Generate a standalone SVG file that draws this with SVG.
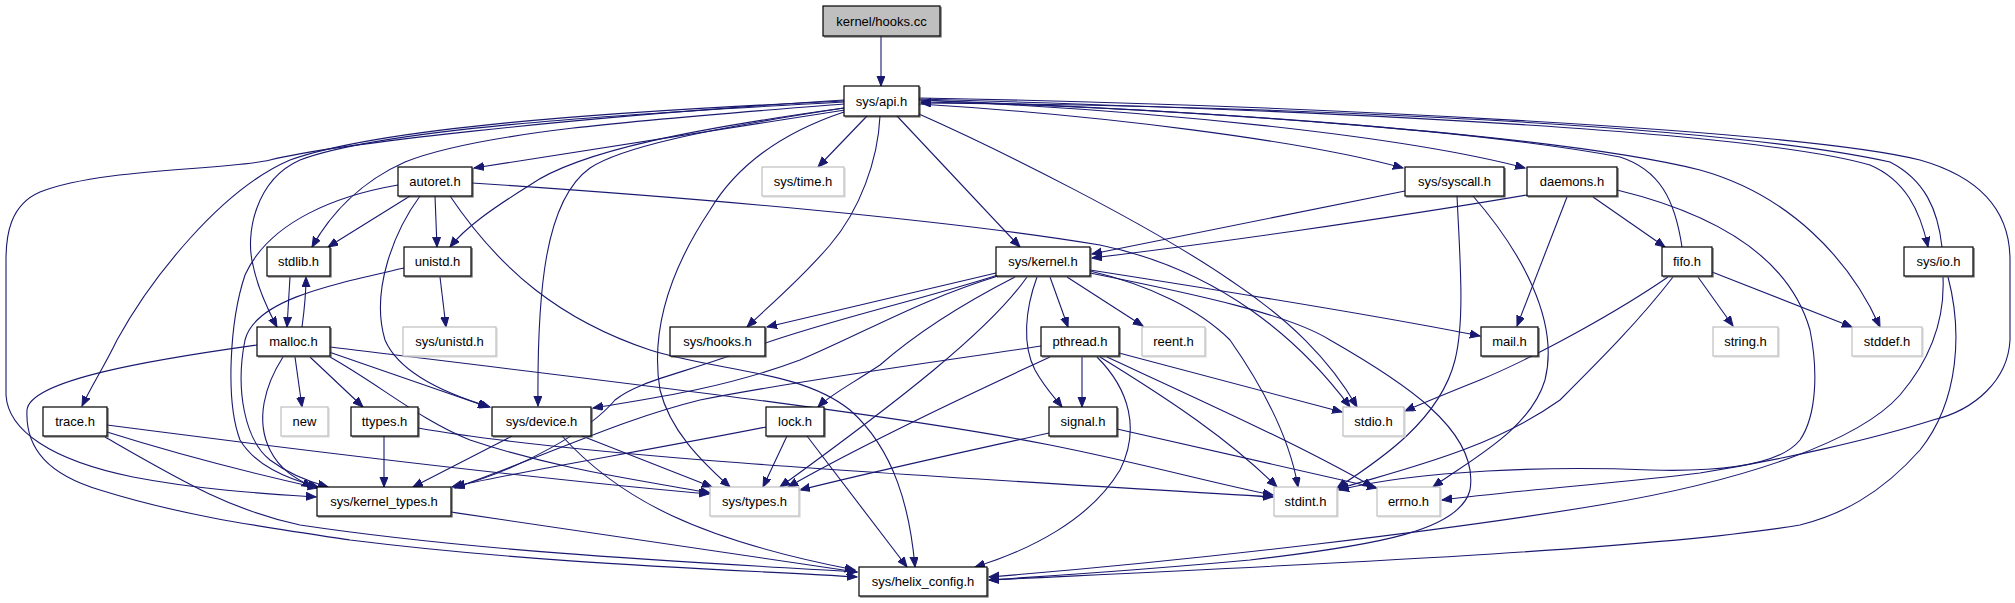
<svg xmlns="http://www.w3.org/2000/svg" width="2015" height="603" viewBox="0 0 2015 603">
<style>
.n rect{fill:#fff;stroke:#000;stroke-width:1.2}
.n .sh{fill:none;stroke:#555;stroke-width:1.2}
.g rect{fill:#fff;stroke:#bfbfbf;stroke-width:1.2}
.g .sh{fill:none;stroke:#d8d8d8;stroke-width:1.2}
.r rect{fill:#bfbfbf;stroke:#000;stroke-width:1.2}
.r .sh{fill:none;stroke:#555;stroke-width:1.2}
text{font-family:"Liberation Sans",Arial,sans-serif;font-size:13px;fill:#000;text-anchor:middle}
#edges path{fill:none;stroke:#191970;stroke-width:1.1;marker-end:url(#ah)}
</style>
<defs>
<marker id="ah" markerWidth="12" markerHeight="9" refX="10" refY="4" orient="auto" markerUnits="userSpaceOnUse">
<path d="M0,0 L10,4 L0,8 z" fill="#191970" stroke="#191970" stroke-width="1"/>
</marker>
</defs>
<rect width="2015" height="603" fill="#fff"/>
<g id="edges">
<path d="M881,36 L881,86"/>
<path d="M845,110 L474,168"/>
<path d="M867,116 L818,167"/>
<path d="M844,104 C640,120 480,132 405,162 C360,182 330,215 312,247"/>
<path d="M844,108 C700,128 580,150 530,185 C490,210 465,228 450,247"/>
<path d="M844,102 C600,115 380,130 300,160 C255,180 245,235 253,265 C258,290 268,310 277,327"/>
<path d="M844,101 C600,112 380,128 290,160 C220,190 150,280 117,340 C105,365 92,385 82,406"/>
<path d="M844,100 C560,118 330,145 270,160 C230,170 100,168 40,192 C10,205 6,235 6,260 L6,395 C8,430 50,460 133,477 C200,490 270,494 316,497"/>
<path d="M844,108 C700,130 620,148 590,168 C545,200 537,290 538,406"/>
<path d="M844,112 C790,130 740,160 710,210 C670,270 650,330 660,390 C670,430 700,460 730,487"/>
<path d="M880,116 C878,160 860,210 830,245 C800,280 770,305 747,327"/>
<path d="M897,116 L1020,247"/>
<path d="M919,114 C1000,150 1150,225 1230,280 C1290,320 1330,360 1357,407"/>
<path d="M919,104 C1100,115 1300,140 1403,168"/>
<path d="M919,100 C1150,110 1400,135 1525,168"/>
<path d="M919,99 C1300,110 1750,130 1870,165 C1905,180 1920,210 1928,247"/>
<path d="M919,100 C1200,110 1560,135 1700,170 C1790,195 1850,260 1880,327"/>
<path d="M919,98 C1300,105 1800,130 1920,160 C1990,180 2010,220 2010,260 L2010,340 C2008,380 1975,410 1933,420 C1870,440 1780,460 1700,473 C1620,483 1520,490 1442,500"/>
<path d="M1682,247 C1675,200 1660,170 1620,157 C1450,125 1100,105 921,102"/>
<path d="M1942,247 C1938,210 1925,180 1890,162 C1700,120 1200,105 921,103"/>
<path d="M398,185 C340,195 270,220 245,275 C230,320 225,400 240,440 C255,465 285,478 318,487"/>
<path d="M410,196 L328,247"/>
<path d="M420,196 C395,230 370,290 385,340 C400,375 450,395 490,407"/>
<path d="M435,196 L437,247"/>
<path d="M450,196 C500,270 560,320 650,350 C720,372 800,370 850,410 C895,450 910,510 915,567"/>
<path d="M472,183 C700,198 950,220 1100,245 C1220,270 1300,340 1350,407"/>
<path d="M290,277 L287,327"/>
<path d="M302,327 C305,305 306,290 306,277"/>
<path d="M440,277 L446,327"/>
<path d="M404,268 C330,285 255,300 245,340 C235,390 245,440 270,460 C290,475 310,482 328,487"/>
<path d="M257,345 C150,360 30,380 27,410 C25,450 50,475 100,490 C180,515 250,525 350,540 C550,565 750,570 857,577"/>
<path d="M283,357 C265,385 255,420 270,450 C280,470 295,478 312,487"/>
<path d="M295,357 L302,407"/>
<path d="M310,357 L363,407"/>
<path d="M329,352 L488,407"/>
<path d="M330,357 C380,385 420,420 470,440 C560,470 640,480 710,493"/>
<path d="M330,347 C600,380 900,415 1050,445 C1150,465 1220,485 1273,495"/>
<path d="M107,432 C180,455 260,475 318,488"/>
<path d="M107,425 C300,450 550,480 709,494"/>
<path d="M105,437 C180,480 230,510 300,525 C500,555 750,565 857,572"/>
<path d="M384,436 L384,487"/>
<path d="M418,428 C600,460 1000,480 1273,497"/>
<path d="M512,436 L413,487"/>
<path d="M582,436 L712,487"/>
<path d="M562,436 C620,500 700,540 855,570"/>
<path d="M766,427 C650,450 500,475 452,487"/>
<path d="M787,436 L763,487"/>
<path d="M807,436 L907,567"/>
<path d="M996,273 L767,327"/>
<path d="M998,276 C920,300 870,330 800,360 C720,390 640,400 593,408"/>
<path d="M998,275 C920,300 830,320 760,345 C680,375 640,380 615,400 C590,430 520,470 455,487"/>
<path d="M1015,277 C970,300 920,330 880,365 C850,385 830,395 818,407"/>
<path d="M1027,277 C990,330 900,400 780,487"/>
<path d="M1037,277 C1025,310 1022,345 1035,370 C1045,388 1055,398 1062,407"/>
<path d="M1050,277 L1068,327"/>
<path d="M1067,277 L1143,326"/>
<path d="M1090,270 C1250,295 1400,320 1480,336"/>
<path d="M1090,271 C1150,285 1200,310 1230,340 C1265,390 1290,440 1298,487"/>
<path d="M1090,273 C1200,295 1290,315 1330,340 C1400,380 1480,430 1470,490 C1460,530 1380,545 1250,560 C1120,572 1030,577 989,580"/>
<path d="M1041,346 C950,360 800,380 700,400 C620,420 560,450 455,488"/>
<path d="M1050,357 C1000,380 870,440 788,487"/>
<path d="M1082,357 L1082,407"/>
<path d="M1097,357 C1130,390 1140,430 1120,470 C1090,520 1030,550 975,567"/>
<path d="M1100,357 C1170,400 1230,440 1277,487"/>
<path d="M1107,357 C1200,400 1300,445 1373,487"/>
<path d="M1119,353 L1342,412"/>
<path d="M1049,433 C950,455 880,470 800,490"/>
<path d="M1117,429 L1377,488"/>
<path d="M1405,191 L1092,254"/>
<path d="M1457,196 C1460,260 1465,320 1455,360 C1440,420 1380,460 1337,488"/>
<path d="M1473,196 C1520,250 1560,320 1545,380 C1530,430 1470,460 1433,487"/>
<path d="M1527,195 C1380,220 1200,245 1092,258"/>
<path d="M1567,197 L1517,326"/>
<path d="M1593,197 L1665,247"/>
<path d="M1617,190 C1720,215 1790,260 1810,330 C1818,370 1817,415 1800,440 C1780,465 1720,472 1650,470 C1550,466 1420,470 1339,490"/>
<path d="M1698,277 L1733,326"/>
<path d="M1712,272 L1852,327"/>
<path d="M1668,277 C1620,310 1540,355 1480,380 C1450,392 1430,400 1405,411"/>
<path d="M1673,277 C1640,320 1600,360 1560,400 C1490,450 1400,470 1338,489"/>
<path d="M1948,277 C1962,330 1960,400 1920,450 C1880,495 1840,515 1800,525 C1650,550 1300,565 989,580"/>
<path d="M1943,277 C1945,320 1930,360 1900,395 C1860,440 1750,480 1600,505 C1450,530 1200,560 989,577"/>
<path d="M451,512 C600,535 750,555 857,572"/>
</g>
<g id="node-hooks" class="r"><path class="sh" d="M824,37 H941 V7"/><rect x="823" y="6" width="117" height="30"/><text x="881.5" y="26">kernel/hooks.cc</text></g>
<g id="node-api" class="n"><path class="sh" d="M845,117 H920 V87"/><rect x="844" y="86" width="75" height="30"/><text x="881.5" y="106">sys/api.h</text></g>
<g id="node-autoret" class="n"><path class="sh" d="M399,197 H473 V168"/><rect x="398" y="167" width="74" height="29"/><text x="435" y="186">autoret.h</text></g>
<g id="node-systime" class="g"><path class="sh" d="M763,197 H845 V168"/><rect x="762" y="167" width="82" height="29"/><text x="803" y="186">sys/time.h</text></g>
<g id="node-syscall" class="n"><path class="sh" d="M1406,197 H1505 V168"/><rect x="1405" y="167" width="99" height="29"/><text x="1454.5" y="186">sys/syscall.h</text></g>
<g id="node-daemons" class="n"><path class="sh" d="M1528,197 H1618 V168"/><rect x="1527" y="167" width="90" height="29"/><text x="1572" y="186">daemons.h</text></g>
<g id="node-stdlib" class="n"><path class="sh" d="M268,277 H331 V248"/><rect x="267" y="247" width="63" height="29"/><text x="298.5" y="266">stdlib.h</text></g>
<g id="node-unistd" class="n"><path class="sh" d="M405,277 H472 V248"/><rect x="404" y="247" width="67" height="29"/><text x="437.5" y="266">unistd.h</text></g>
<g id="node-kernel" class="n"><path class="sh" d="M997,277 H1091 V248"/><rect x="996" y="247" width="94" height="29"/><text x="1043" y="266">sys/kernel.h</text></g>
<g id="node-fifo" class="n"><path class="sh" d="M1663,277 H1713 V248"/><rect x="1662" y="247" width="50" height="29"/><text x="1687" y="266">fifo.h</text></g>
<g id="node-sysio" class="n"><path class="sh" d="M1905,277 H1974 V248"/><rect x="1904" y="247" width="69" height="29"/><text x="1938.5" y="266">sys/io.h</text></g>
<g id="node-malloc" class="n"><path class="sh" d="M258,357 H331 V328"/><rect x="257" y="327" width="73" height="29"/><text x="293.5" y="346">malloc.h</text></g>
<g id="node-sysunistd" class="g"><path class="sh" d="M404,357 H497 V328"/><rect x="403" y="327" width="93" height="29"/><text x="449.5" y="346">sys/unistd.h</text></g>
<g id="node-hooksh" class="n"><path class="sh" d="M671,357 H766 V328"/><rect x="670" y="327" width="95" height="29"/><text x="717.5" y="346">sys/hooks.h</text></g>
<g id="node-pthread" class="n"><path class="sh" d="M1042,357 H1120 V328"/><rect x="1041" y="327" width="78" height="29"/><text x="1080" y="346">pthread.h</text></g>
<g id="node-reent" class="g"><path class="sh" d="M1143,357 H1206 V328"/><rect x="1142" y="327" width="63" height="29"/><text x="1173.5" y="346">reent.h</text></g>
<g id="node-mail" class="n"><path class="sh" d="M1482,357 H1539 V328"/><rect x="1481" y="327" width="57" height="29"/><text x="1509.5" y="346">mail.h</text></g>
<g id="node-string" class="g"><path class="sh" d="M1714,357 H1779 V328"/><rect x="1713" y="327" width="65" height="29"/><text x="1745.5" y="346">string.h</text></g>
<g id="node-stddef" class="g"><path class="sh" d="M1853,357 H1923 V328"/><rect x="1852" y="327" width="70" height="29"/><text x="1887" y="346">stddef.h</text></g>
<g id="node-trace" class="n"><path class="sh" d="M44,437 H108 V408"/><rect x="43" y="407" width="64" height="29"/><text x="75" y="426">trace.h</text></g>
<g id="node-new" class="g"><path class="sh" d="M282,437 H329 V408"/><rect x="281" y="407" width="47" height="29"/><text x="304.5" y="426">new</text></g>
<g id="node-ttypes" class="n"><path class="sh" d="M352,437 H419 V408"/><rect x="351" y="407" width="67" height="29"/><text x="384.5" y="426">ttypes.h</text></g>
<g id="node-device" class="n"><path class="sh" d="M493,437 H592 V408"/><rect x="492" y="407" width="99" height="29"/><text x="541.5" y="426">sys/device.h</text></g>
<g id="node-lock" class="n"><path class="sh" d="M767,437 H825 V408"/><rect x="766" y="407" width="58" height="29"/><text x="795" y="426">lock.h</text></g>
<g id="node-signal" class="n"><path class="sh" d="M1050,437 H1118 V408"/><rect x="1049" y="407" width="68" height="29"/><text x="1083" y="426">signal.h</text></g>
<g id="node-stdio" class="g"><path class="sh" d="M1344,437 H1405 V408"/><rect x="1343" y="407" width="61" height="29"/><text x="1373.5" y="426">stdio.h</text></g>
<g id="node-kerneltypes" class="n"><path class="sh" d="M318,517 H452 V488"/><rect x="317" y="487" width="134" height="29"/><text x="384" y="506">sys/kernel_types.h</text></g>
<g id="node-systypes" class="g"><path class="sh" d="M711,517 H800 V488"/><rect x="710" y="487" width="89" height="29"/><text x="754.5" y="506">sys/types.h</text></g>
<g id="node-stdint" class="g"><path class="sh" d="M1275,517 H1338 V488"/><rect x="1274" y="487" width="63" height="29"/><text x="1305.5" y="506">stdint.h</text></g>
<g id="node-errno" class="g"><path class="sh" d="M1378,517 H1441 V488"/><rect x="1377" y="487" width="63" height="29"/><text x="1408.5" y="506">errno.h</text></g>
<g id="node-helix" class="n"><path class="sh" d="M860,597 H988 V568"/><rect x="859" y="567" width="128" height="29"/><text x="923" y="586">sys/helix_config.h</text></g>
</svg>
